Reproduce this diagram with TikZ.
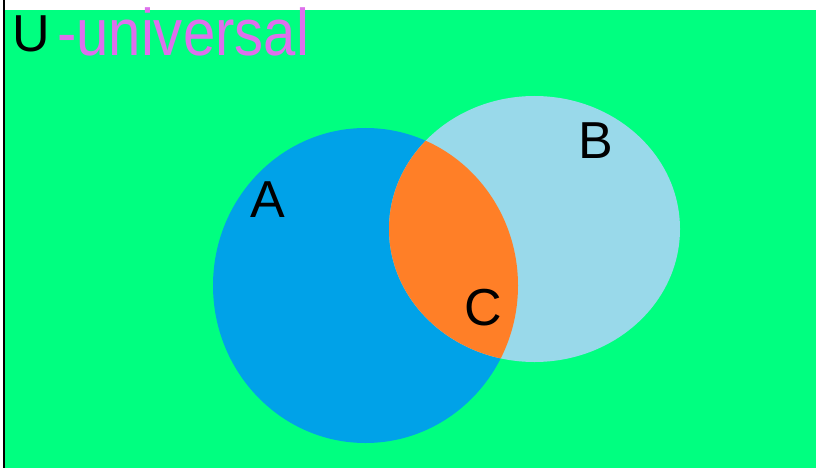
\documentclass[tikz,border=0pt]{standalone}
\usepackage{fontspec}
\setmainfont{Liberation Sans}
\definecolor{universe}{RGB}{0,255,128}
\definecolor{setA}{RGB}{0,162,232}
\definecolor{setB}{RGB}{153,217,234}
\definecolor{setC}{RGB}{255,127,39}
\definecolor{pen}{RGB}{222,112,236}
\tikzset{
  lbl/.style={inner sep=0pt, anchor=base west, font=\fontsize{52}{60}\selectfont},
  hand/.style={inner sep=0pt, anchor=base west, text=pen, xscale=0.88, font=\fontsize{66}{74}\selectfont}
}
\begin{document}
\begin{tikzpicture}[x=1pt, y=-1pt]
\useasboundingbox (0,0) rectangle (816,468);
\fill[white](0,0) rectangle (816,468);
\fill[universe](5,10) rectangle (816,468);
\draw[line width=2pt](4,0)--(4,468);

\fill[setA](365.5,285.5) ellipse [x radius=152.5, y radius=157.5];
\fill[setB](534.5,229) ellipse [x radius=145.5, y radius=133];
\begin{scope}
\clip(365.5,285.5) ellipse [x radius=152.5, y radius=157.5];
\fill[setC](534.5,229) ellipse [x radius=145.5, y radius=133];
\end{scope}

\node[lbl] (labU) at (12,52) {U};
\node[hand] (labUniv) at (57,56) {-universal};
\node[lbl] (labA) at (250,217) {A};
\node[lbl] (labB) at (578,158) {B};
\node[lbl] (labC) at (464,325) {C};

\end{tikzpicture}
\end{document}
